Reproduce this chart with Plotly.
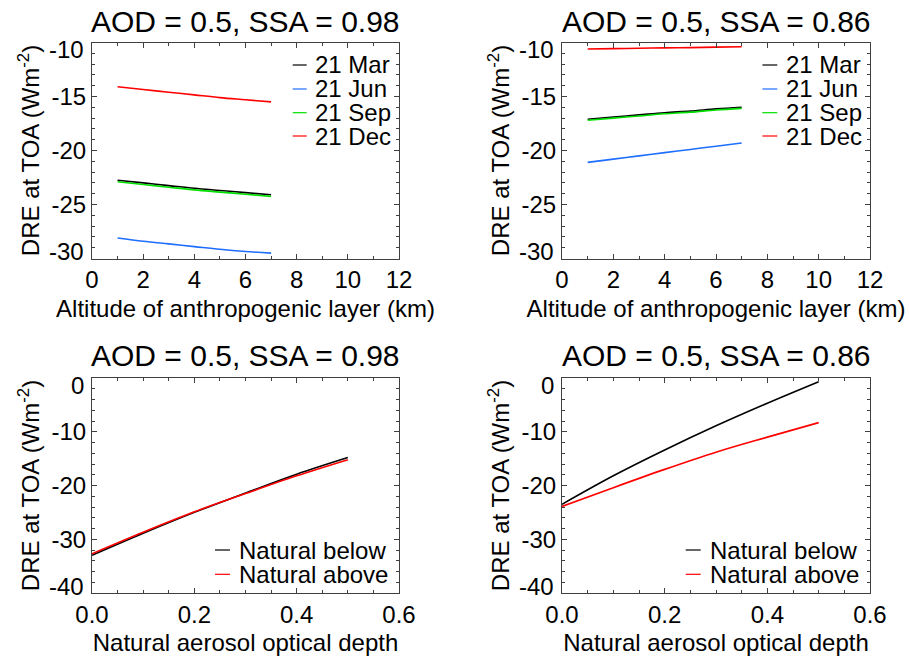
import plotly.graph_objects as go

# ---------------- data ----------------
alt_km = [1, 2, 3, 4, 5, 6, 7]
# SSA = 0.98
mar_098 = [-22.75, -23.0, -23.25, -23.5, -23.7, -23.9, -24.1]
jun_098 = [-28.1, -28.4, -28.65, -28.9, -29.15, -29.35, -29.5]
sep_098 = [-22.9, -23.15, -23.4, -23.65, -23.85, -24.05, -24.25]
dec_098 = [-14.1, -14.35, -14.6, -14.85, -15.1, -15.3, -15.5]
# SSA = 0.86
mar_086 = [-17.1, -16.9, -16.7, -16.5, -16.35, -16.15, -16.0]
jun_086 = [-21.1, -20.8, -20.5, -20.2, -19.9, -19.6, -19.3]
sep_086 = [-17.2, -17.0, -16.8, -16.6, -16.45, -16.25, -16.1]
dec_086 = [-10.6, -10.57, -10.53, -10.5, -10.47, -10.43, -10.4]

nat_aod = [0.0, 0.1, 0.2, 0.3, 0.4, 0.5]
below_098 = [-33.0, -28.9, -25.0, -21.4, -17.9, -14.8]
above_098 = [-32.7, -28.7, -24.9, -21.5, -18.2, -15.2]
below_086 = [-23.5, -18.2, -13.4, -8.9, -4.7, -0.7]
above_086 = [-23.9, -20.4, -17.0, -13.8, -11.0, -8.3]

season_names = ["21 Mar", "21 Jun", "21 Sep", "21 Dec"]
season_colors = ["#000000", "#1e6eff", "#00e000", "#ff0000"]
nat_names = ["Natural below", "Natural above"]
nat_colors = ["#000000", "#ff0000"]

titles = ["AOD = 0.5, SSA = 0.98", "AOD = 0.5, SSA = 0.86",
          "AOD = 0.5, SSA = 0.98", "AOD = 0.5, SSA = 0.86"]
ytitle = "DRE at TOA (Wm<sup>-2</sup>)"
xtitle_top = "Altitude of anthropogenic layer (km)"
xtitle_bot = "Natural aerosol optical depth"

alt_ticks = [0, 2, 4, 6, 8, 10, 12]
alt_labels = ["0", "2", "4", "6", "8", "10", "12"]
dre_top_ticks = [-30, -25, -20, -15, -10]
dre_top_labels = ["-30", "-25", "-20", "-15", "-10"]
aod_ticks = [0.0, 0.2, 0.4, 0.6]
aod_labels = ["0.0", "0.2", "0.4", "0.6"]
dre_bot_ticks = [-40, -30, -20, -10, 0]
dre_bot_labels = ["-40", "-30", "-20", "-10", "0"]

# ---------------- figure ----------------
W, H = 909, 661
FONT = "Liberation Sans, Arial, Helvetica, sans-serif"
FS = 24
fig = go.Figure()

panels = [
    dict(ax="", x=alt_km, ys=[mar_098, jun_098, sep_098, dec_098], names=season_names, colors=season_colors),
    dict(ax="2", x=alt_km, ys=[mar_086, jun_086, sep_086, dec_086], names=season_names, colors=season_colors),
    dict(ax="3", x=nat_aod, ys=[below_098, above_098], names=nat_names, colors=nat_colors),
    dict(ax="4", x=nat_aod, ys=[below_086, above_086], names=nat_names, colors=nat_colors),
]

for p in panels:
    for yv, nm, col in zip(p["ys"], p["names"], p["colors"]):
        fig.add_trace(go.Scatter(x=p["x"], y=yv, name=nm, mode="lines",
                                 line=dict(color=col, width=1.6, shape="spline"),
                                 xaxis="x" + p["ax"], yaxis="y" + p["ax"], showlegend=False))

# pixel geometry of plot areas
px_left = [(92, 399), (562, 870)]
px_top = [(42.5, 258.5), (378, 593)]

def xdom(i):
    a, b = px_left[i]
    return [a / W, b / W]

def ydom(j):
    t, b = px_top[j]
    return [1 - b / H, 1 - t / H]

frame = "#404040"
tickfont = dict(size=FS, color="black", family=FONT)
common = dict(showline=True, linecolor=frame, linewidth=1, mirror="ticks",
              ticks="inside", ticklen=5, tickcolor=frame, tickwidth=1,
              showgrid=False, zeroline=False, automargin=False,
              tickfont=tickfont,
              title_font=dict(size=FS, color="black", family=FONT))

annotations = []
shapes = []
layout_axes = {}
for k, (i, j) in enumerate([(0, 0), (1, 0), (0, 1), (1, 1)]):
    sfx = "" if k == 0 else str(k + 1)
    top = (j == 0)
    xa = dict(common, domain=xdom(i), anchor="y" + sfx,
              title=dict(text=xtitle_top if top else xtitle_bot, standoff=7))
    ya = dict(common, domain=ydom(j), anchor="x" + sfx,
              title=dict(text=ytitle, standoff=5))
    if top:
        xvals, xtxt, xminor = alt_ticks, alt_labels, 1
        yvals, ytxt, yminor = dre_top_ticks, dre_top_labels, 1
    else:
        xvals, xtxt, xminor = aod_ticks, aod_labels, 0.05
        yvals, ytxt, yminor = dre_bot_ticks, dre_bot_labels, 2
    xr = [xvals[0], xvals[-1]]
    yr = [yvals[0], yvals[-1]]
    xa.update(range=xr, tickmode="array", tickvals=xvals, ticktext=xtxt,
              minor=dict(tickmode="linear", tick0=xr[0], dtick=xminor, ticks="inside",
                         ticklen=3, tickcolor=frame, showgrid=False))
    # middle y labels on the axis; the two end labels are nudged inward (as in the original)
    ya.update(range=yr, tickmode="array", tickvals=yvals[1:-1], ticktext=ytxt[1:-1],
              minor=dict(tickmode="linear", tick0=yr[0], dtick=yminor, ticks="inside",
                         ticklen=3, tickcolor=frame, showgrid=False))
    layout_axes["xaxis" + sfx] = xa
    layout_axes["yaxis" + sfx] = ya
    for val, txt, shift in [(yvals[0], ytxt[0], 7), (yvals[-1], ytxt[-1], -7)]:
        annotations.append(dict(text=txt, xref="paper", yref="y" + sfx,
                                x=(px_left[i][0] - 6) / W, y=val, yshift=shift,
                                xanchor="right", yanchor="middle", showarrow=False,
                                font=tickfont))

# panel titles
title_y = [21.7, 355]
for k, (i, j) in enumerate([(0, 0), (1, 0), (0, 1), (1, 1)]):
    a, b = px_left[i]
    annotations.append(dict(text=titles[k], x=(a + b) / 2 / W, y=1 - title_y[j] / H,
                            xref="paper", yref="paper", showarrow=False,
                            xanchor="center", yanchor="middle",
                            font=dict(size=30, color="black", family=FONT)))

# legends (key line + label) per panel
leg_pos = [
    dict(x0=292.7, x1=306.7, tx=313, rows=[65, 89, 112.7, 136]),
    dict(x0=762.3, x1=777.3, tx=784, rows=[65, 89, 112.7, 136]),
    dict(x0=215, x1=230, tx=237.3, rows=[550, 574.3]),
    dict(x0=685.7, x1=700.7, tx=708, rows=[550, 574.3]),
]
for p, lp in zip(panels, leg_pos):
    for nm, col, ry in zip(p["names"], p["colors"], lp["rows"]):
        shapes.append(dict(type="line", xref="paper", yref="paper",
                           x0=lp["x0"] / W, x1=lp["x1"] / W, y0=1 - ry / H, y1=1 - ry / H,
                           line=dict(color=col, width=1.2)))
        annotations.append(dict(text=nm, x=lp["tx"] / W, y=1 - ry / H,
                                xref="paper", yref="paper", showarrow=False,
                                xanchor="left", yanchor="middle",
                                font=dict(size=FS, color="black", family=FONT)))

fig.update_layout(width=W, height=H, margin=dict(l=0, r=0, t=0, b=0),
                  paper_bgcolor="white", plot_bgcolor="white",
                  font=dict(family=FONT, color="black"),
                  annotations=annotations, shapes=shapes, showlegend=False,
                  **layout_axes)

fig.write_html("out.html", config={"displayModeBar": False},
               post_script="document.body.style.margin='0';document.body.style.overflow='hidden';")
